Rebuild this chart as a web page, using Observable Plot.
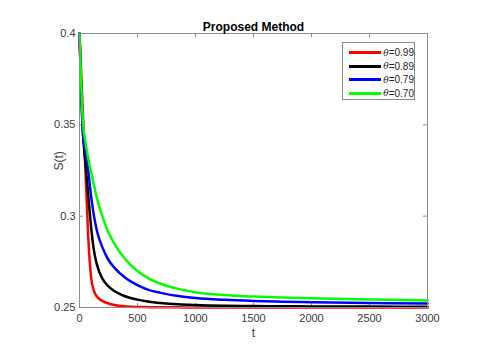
<!DOCTYPE html>
<html>
<head>
<meta charset="utf-8">
<script src="https://cdn.jsdelivr.net/npm/d3@7"></script>
<script src="https://cdn.jsdelivr.net/npm/@observablehq/plot@0.6"></script>
<style>
  html, body { margin: 0; padding: 0; background: #fff; }
  #wrap { position: relative; width: 503px; height: 344px; font-family: "Liberation Sans", Arial, sans-serif; }
  #legend { position: absolute; left: 342px; top: 42px; width: 73px; height: 58px; box-sizing: border-box;
            border: 1px solid #8c8c8c; background: #fff; padding: 3px 0 0 6px; }
  .row { display: flex; align-items: center; height: 13.5px; font-size: 10px; color: #262626; }
  .sw { width: 33px; height: 3px; margin-right: 2px; }
  .th { font-family: "DejaVu Serif", "Liberation Serif", serif; font-style: italic; font-size: 9px; }
</style>
</head>
<body>
<div id="wrap"></div>
<script>
const tValues = [0, 30, 50, 75, 100, 125, 150, 200, 250, 300, 400, 500, 600, 700, 850, 1000, 1250, 1500, 1750, 2000, 2500, 3000];
const s099 = [0.4, 0.355, 0.327, 0.289, 0.2665, 0.2590, 0.2560, 0.2535, 0.2522, 0.2514, 0.2506, 0.2503, 0.2502, 0.2501, 0.2501, 0.2500, 0.2500, 0.2500, 0.2500, 0.2500, 0.2500, 0.2500];
const s089 = [0.4, 0.345, 0.330, 0.312, 0.294, 0.281, 0.2735, 0.2655, 0.2615, 0.2590, 0.2560, 0.2543, 0.2532, 0.2525, 0.2518, 0.2514, 0.2510, 0.2508, 0.2507, 0.2506, 0.2505, 0.2504];
const s079 = [0.4, 0.345, 0.336, 0.325, 0.311, 0.300, 0.2920, 0.2825, 0.2760, 0.2718, 0.2660, 0.2622, 0.2595, 0.2580, 0.2563, 0.2552, 0.2542, 0.2536, 0.2532, 0.2529, 0.2525, 0.2522];
const s070 = [0.4, 0.351, 0.341, 0.332, 0.324, 0.317, 0.310, 0.2995, 0.291, 0.2850, 0.2760, 0.2700, 0.2658, 0.2630, 0.2602, 0.2584, 0.2568, 0.2560, 0.2555, 0.2551, 0.2544, 0.2538];
const seriesNames = ["θ=0.99", "θ=0.89", "θ=0.79", "θ=0.70"];
const seriesColors = ["#ff0000", "#000000", "#0000ff", "#00ff00"];
const xTicks = [0, 500, 1000, 1500, 2000, 2500, 3000];
const yTicks = [0.25, 0.3, 0.35, 0.4];
const yTickLabels = ["0.25", "0.3", "0.35", "0.4"];

const allSeries = [s099, s089, s079, s070];
const data = [];
allSeries.forEach((vals, i) => vals.forEach((v, j) => data.push({t: tValues[j], s: v, k: seriesNames[i]})));

const W = 503, H = 344, mL = 79, mR = 76, mT = 33, mB = 37;
const pw = W - mL - mR, ph = H - mT - mB;
const axisColor = "#8c8c8c";
const labelColor = "#3a3a3a";

const chart = Plot.plot({
  width: W, height: H,
  marginLeft: mL, marginRight: mR, marginTop: mT, marginBottom: mB,
  style: {fontFamily: "'Liberation Sans', Arial, sans-serif", fontSize: "11px", background: "#fff", overflow: "visible"},
  x: {domain: [0, 3000]},
  y: {domain: [0.25, 0.4]},
  color: {domain: seriesNames, range: seriesColors},
  marks: [
    Plot.axisX(xTicks, {tickSize: 0, tickPadding: 7, color: labelColor, fontSize: 11, label: null, tickFormat: d => String(d)}),
    Plot.axisY(yTicks, {tickSize: 0, tickPadding: 4, color: labelColor, fontSize: 11, label: null, tickFormat: d => yTickLabels[yTicks.indexOf(d)]}),
    Plot.tickX(xTicks, {x: d => d, insetTop: ph - 4, stroke: axisColor}),
    Plot.tickX(xTicks, {x: d => d, insetBottom: ph - 4, stroke: axisColor}),
    Plot.tickY(yTicks, {y: d => d, insetRight: pw - 4, stroke: axisColor}),
    Plot.tickY(yTicks, {y: d => d, insetLeft: pw - 4, stroke: axisColor}),
    Plot.line(data, {x: "t", y: "s", z: "k", stroke: "k", strokeWidth: 2.5, curve: "monotone-x"}),
    Plot.frame({stroke: axisColor, strokeWidth: 1}),
    Plot.text(["Proposed Method"], {frameAnchor: "top", dy: -11, fontWeight: "bold", fontSize: 12, fill: "#000"}),
    Plot.text(["t"], {frameAnchor: "bottom", dy: 29, fontSize: 12, fill: labelColor}),
    Plot.text(["S(t)"], {frameAnchor: "left", dx: -20, rotate: -90, fontSize: 12, fill: labelColor})
  ]
});
const wrap = document.getElementById("wrap");
wrap.appendChild(chart);

const legend = document.createElement("div");
legend.id = "legend";
seriesNames.forEach((n, i) => {
  const row = document.createElement("div");
  row.className = "row";
  const sw = document.createElement("div");
  sw.className = "sw";
  sw.style.background = seriesColors[i];
  row.appendChild(sw);
  const th = document.createElement("span");
  th.className = "th";
  th.textContent = n.slice(0, 1);
  row.appendChild(th);
  const rest = document.createElement("span");
  rest.textContent = n.slice(1);
  row.appendChild(rest);
  legend.appendChild(row);
});
wrap.appendChild(legend);
</script>
</body>
</html>
